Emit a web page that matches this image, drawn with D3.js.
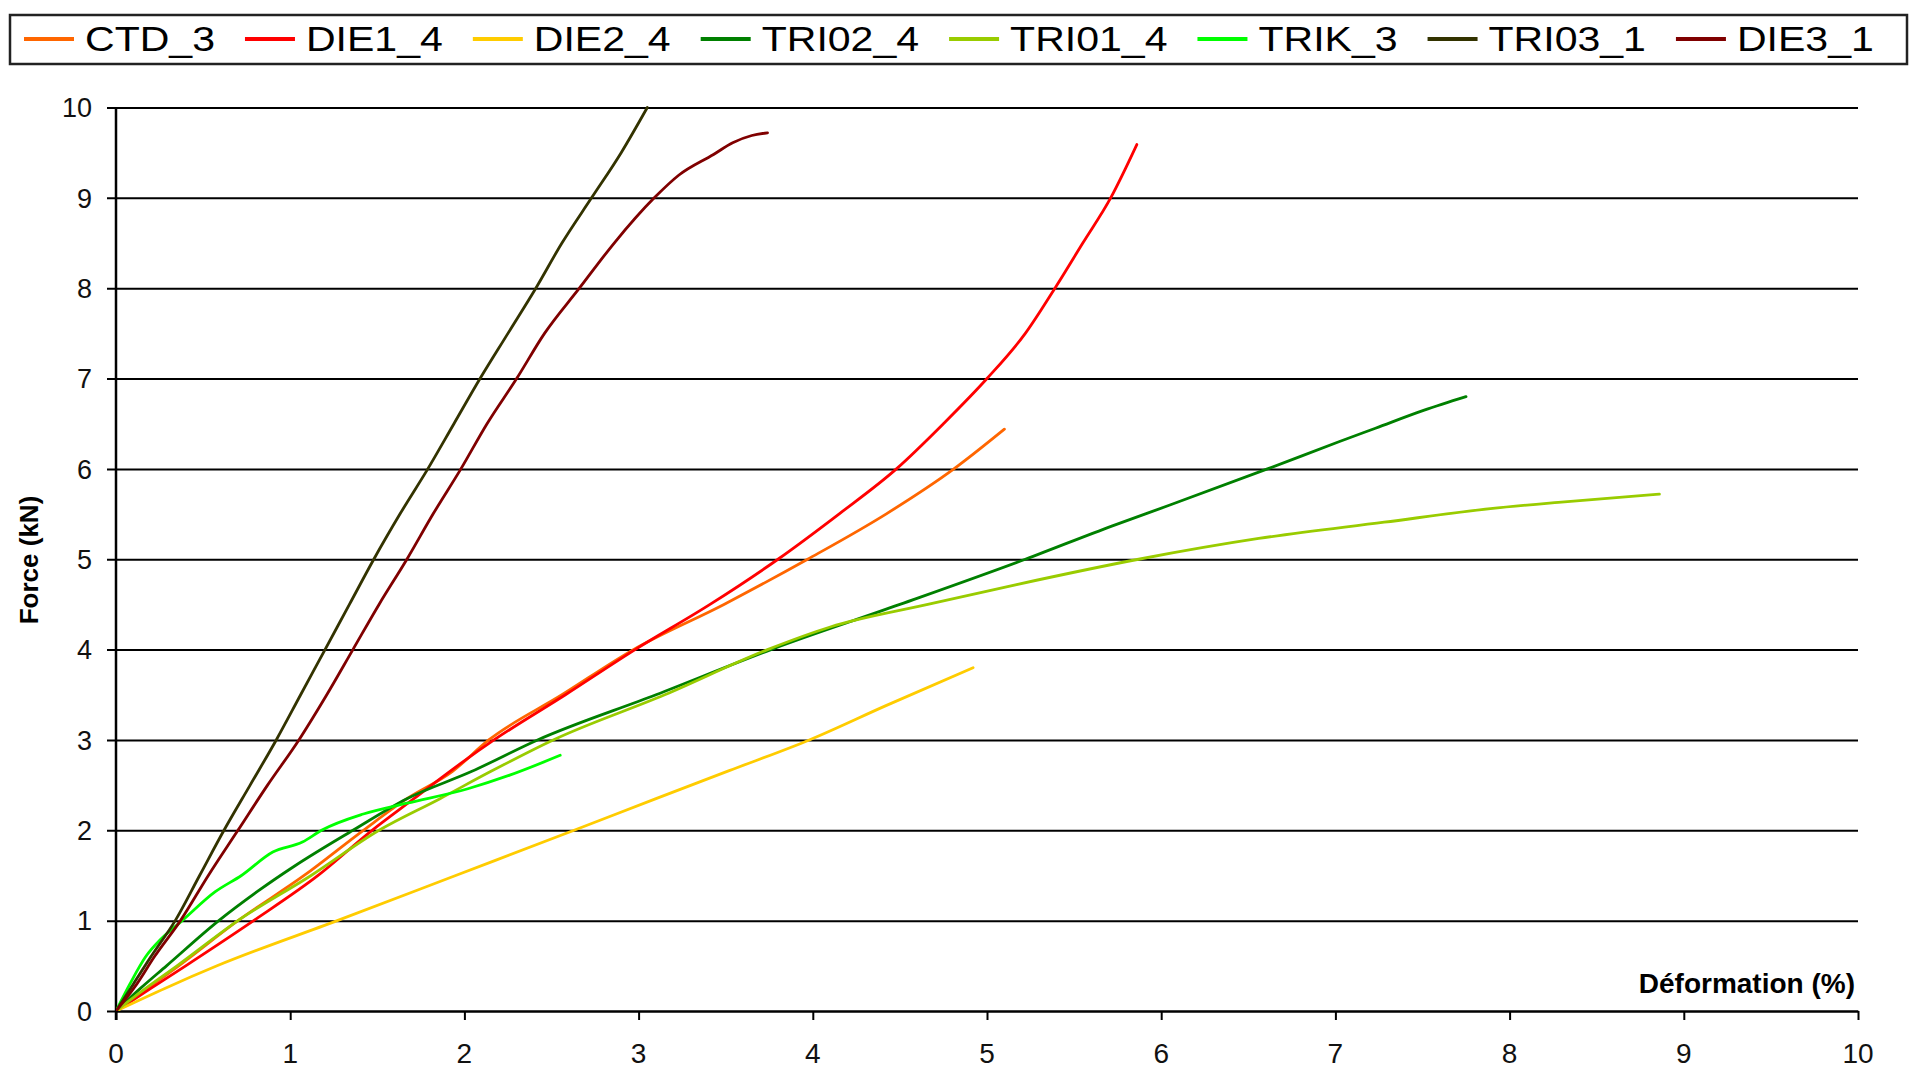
<!DOCTYPE html>
<html>
<head>
<meta charset="utf-8">
<script src="https://cdn.jsdelivr.net/npm/d3@7/dist/d3.min.js"></script>
<style>
  html, body { margin: 0; padding: 0; background: #fff; }
  svg { display: block; }
  text { font-family: "Liberation Sans", Arial, sans-serif; }
</style>
</head>
<body>
<svg id="chart" width="1915" height="1069"></svg>
<script>
// ---------- data ----------
const seriesNames = ["CTD_3", "DIE1_4", "DIE2_4", "TRI02_4", "TRI01_4", "TRIK_3", "TRI03_1", "DIE3_1"];
const seriesColors = ["#FF6600", "#FF0000", "#FFCC00", "#008000", "#99CC00", "#00FF00", "#333300", "#800000"];

const xTicks = [0, 1, 2, 3, 4, 5, 6, 7, 8, 9, 10];
const yTicks = [0, 1, 2, 3, 4, 5, 6, 7, 8, 9, 10];

// Déformation (%) / Force (kN)
const ctd3X   = [0, 0.18, 0.36, 0.70, 1.08, 1.42, 1.67, 1.93, 2.14, 2.56, 2.97, 3.49, 3.97, 4.42, 4.81, 5.10];
const ctd3Y   = [0, 0.25, 0.50, 1.00, 1.50, 2.00, 2.35, 2.65, 3.00, 3.50, 4.00, 4.50, 5.00, 5.50, 6.00, 6.44];

const die14X  = [0, 0.20, 0.40, 0.79, 1.16, 1.47, 1.71, 1.95, 2.17, 2.58, 2.98, 3.41, 3.80, 4.15, 4.48, 4.75, 5.00, 5.22, 5.39, 5.55, 5.71, 5.86];
const die14Y  = [0, 0.25, 0.50, 1.00, 1.50, 2.00, 2.35, 2.70, 3.00, 3.50, 4.00, 4.50, 5.00, 5.50, 6.00, 6.50, 7.00, 7.50, 8.00, 8.50, 9.00, 9.59];

const die24X  = [0, 0.28, 0.58, 1.27, 1.95, 2.63, 3.10, 3.52, 3.98, 4.42, 4.92];
const die24Y  = [0, 0.25, 0.50, 1.00, 1.50, 2.00, 2.35, 2.66, 3.00, 3.38, 3.80];

const tri024X = [0, 0.14, 0.29, 0.59, 0.81, 1.03, 1.36, 1.67, 2.04, 2.42, 3.10, 3.76, 4.50, 5.22, 5.72, 6.05, 6.61, 7.02, 7.23, 7.51, 7.75];
const tri024Y = [0, 0.25, 0.50, 1.00, 1.32, 1.61, 2.00, 2.35, 2.65, 3.00, 3.50, 4.00, 4.50, 5.00, 5.37, 5.60, 6.00, 6.30, 6.45, 6.65, 6.80];

const tri014X = [0, 0.17, 0.35, 0.70, 1.12, 1.51, 1.86, 2.15, 2.51, 3.15, 3.74, 4.10, 4.66, 5.17, 5.87, 6.56, 7.28, 7.89, 8.28, 8.86];
const tri014Y = [0, 0.25, 0.50, 1.00, 1.50, 2.00, 2.35, 2.65, 3.00, 3.50, 4.00, 4.25, 4.50, 4.72, 5.00, 5.23, 5.41, 5.56, 5.63, 5.72];

const trik3X  = [0, 0.08, 0.17, 0.26, 0.38, 0.57, 0.72, 0.90, 1.07, 1.18, 1.42, 1.67, 2.02, 2.26, 2.55];
const trik3Y  = [0, 0.30, 0.60, 0.80, 1.00, 1.32, 1.50, 1.76, 1.87, 2.00, 2.18, 2.30, 2.46, 2.61, 2.83];

const tri031X = [0, 0.10, 0.20, 0.34, 0.48, 0.62, 0.77, 0.92, 1.06, 1.20, 1.34, 1.48, 1.63, 1.79, 1.94, 2.09, 2.25, 2.41, 2.56, 2.73, 2.90, 3.05];
const tri031Y = [0, 0.30, 0.60, 1.00, 1.50, 2.00, 2.50, 3.00, 3.50, 4.00, 4.50, 5.00, 5.50, 6.00, 6.50, 7.00, 7.50, 8.00, 8.50, 9.00, 9.50, 10.0];

const die31X  = [0, 0.12, 0.22, 0.37, 0.53, 0.70, 0.87, 1.05, 1.21, 1.36, 1.51, 1.67, 1.82, 1.98, 2.13, 2.30, 2.46, 2.66, 2.86, 3.09, 3.23, 3.43, 3.54, 3.65, 3.74];
const die31Y  = [0, 0.30, 0.60, 1.00, 1.50, 2.00, 2.50, 3.00, 3.50, 4.00, 4.50, 5.00, 5.50, 6.00, 6.50, 7.00, 7.50, 8.00, 8.50, 9.00, 9.25, 9.48, 9.61, 9.69, 9.72];

const seriesX = [ctd3X, die14X, die24X, tri024X, tri014X, trik3X, tri031X, die31X];
const seriesY = [ctd3Y, die14Y, die24Y, tri024Y, tri014Y, trik3Y, tri031Y, die31Y];

// ---------- layout ----------
const svg = d3.select("#chart");
const plot = { left: 116, right: 1858, top: 107.5, bottom: 1011 };

const x = d3.scaleLinear().domain([0, 10]).range([plot.left, plot.right]);
const y = d3.scaleLinear().domain([0, 10]).range([plot.bottom, plot.top]);

// gridlines (with short tick extensions to the left)
const yAxis = d3.axisLeft(y).tickValues(yTicks).tickSize(-(plot.right - plot.left)).tickSizeOuter(0).tickPadding(0).tickFormat("");
const gy = svg.append("g").attr("transform", `translate(${plot.left},0)`).call(yAxis);
gy.select(".domain").remove();
gy.selectAll(".tick line").attr("x1", -9).attr("stroke", "#000").attr("stroke-width", 2);

// y tick labels
svg.append("g").selectAll("text").data(yTicks).join("text")
  .attr("x", 92).attr("y", d => y(d)).attr("dy", "0.36em")
  .attr("text-anchor", "end").attr("font-size", 27).attr("fill", "#111")
  .text(d => d);

// x axis
const xAxis = d3.axisBottom(x).tickValues(xTicks).tickSize(9).tickSizeOuter(0).tickFormat("");
const gx = svg.append("g").attr("transform", `translate(0,${plot.bottom})`).call(xAxis);
gx.select(".domain").attr("stroke", "#000").attr("stroke-width", 2);
gx.selectAll(".tick line").attr("stroke", "#000").attr("stroke-width", 2);

svg.append("g").selectAll("text").data(xTicks).join("text")
  .attr("x", d => x(d)).attr("y", 1063)
  .attr("text-anchor", "middle").attr("font-size", 28).attr("fill", "#111")
  .text(d => d);

// y axis line
svg.append("line")
  .attr("x1", plot.left).attr("x2", plot.left)
  .attr("y1", plot.top).attr("y2", plot.bottom + 9)
  .attr("stroke", "#000").attr("stroke-width", 2.5);

// axis titles
svg.append("text")
  .attr("x", 1855).attr("y", 993)
  .attr("text-anchor", "end").attr("font-size", 28).attr("font-weight", "bold").attr("fill", "#000")
  .text("Déformation (%)");

svg.append("text")
  .attr("transform", "translate(38,560) rotate(-90)")
  .attr("text-anchor", "middle").attr("font-size", 26).attr("font-weight", "bold").attr("fill", "#000")
  .text("Force (kN)");

// series lines
const line = d3.line().x(d => x(d[0])).y(d => y(d[1])).curve(d3.curveMonotoneX);
svg.append("clipPath").attr("id", "plotclip").append("rect")
  .attr("x", plot.left).attr("y", plot.top - 4).attr("width", plot.right - plot.left).attr("height", plot.bottom - plot.top + 4);

svg.append("g").attr("clip-path", "url(#plotclip)")
  .selectAll("path").data(seriesNames).join("path")
  .attr("d", (name, i) => line(seriesX[i].map((v, j) => [v, seriesY[i][j]])))
  .attr("fill", "none")
  .attr("stroke", (name, i) => seriesColors[i])
  .attr("stroke-width", 2.8)
  .attr("stroke-linejoin", "round")
  .attr("stroke-linecap", "round");

// legend
const legend = svg.append("g");
legend.append("rect")
  .attr("x", 10).attr("y", 15).attr("width", 1897).attr("height", 49)
  .attr("fill", "#fff").attr("stroke", "#222").attr("stroke-width", 2.5);

const legendStretch = 1.14;
let lx = 24;
seriesNames.forEach((name, i) => {
  legend.append("line")
    .attr("x1", lx).attr("x2", lx + 50).attr("y1", 39).attr("y2", 39)
    .attr("stroke", seriesColors[i]).attr("stroke-width", 4);
  const t = legend.append("text")
    .attr("transform", `translate(${lx + 61},51) scale(${legendStretch},1)`)
    .attr("font-size", 36).attr("fill", "#000")
    .text(name);
  const w = t.node().getComputedTextLength() * legendStretch;
  lx = lx + 61 + w + 30;
});
</script>
</body>
</html>
